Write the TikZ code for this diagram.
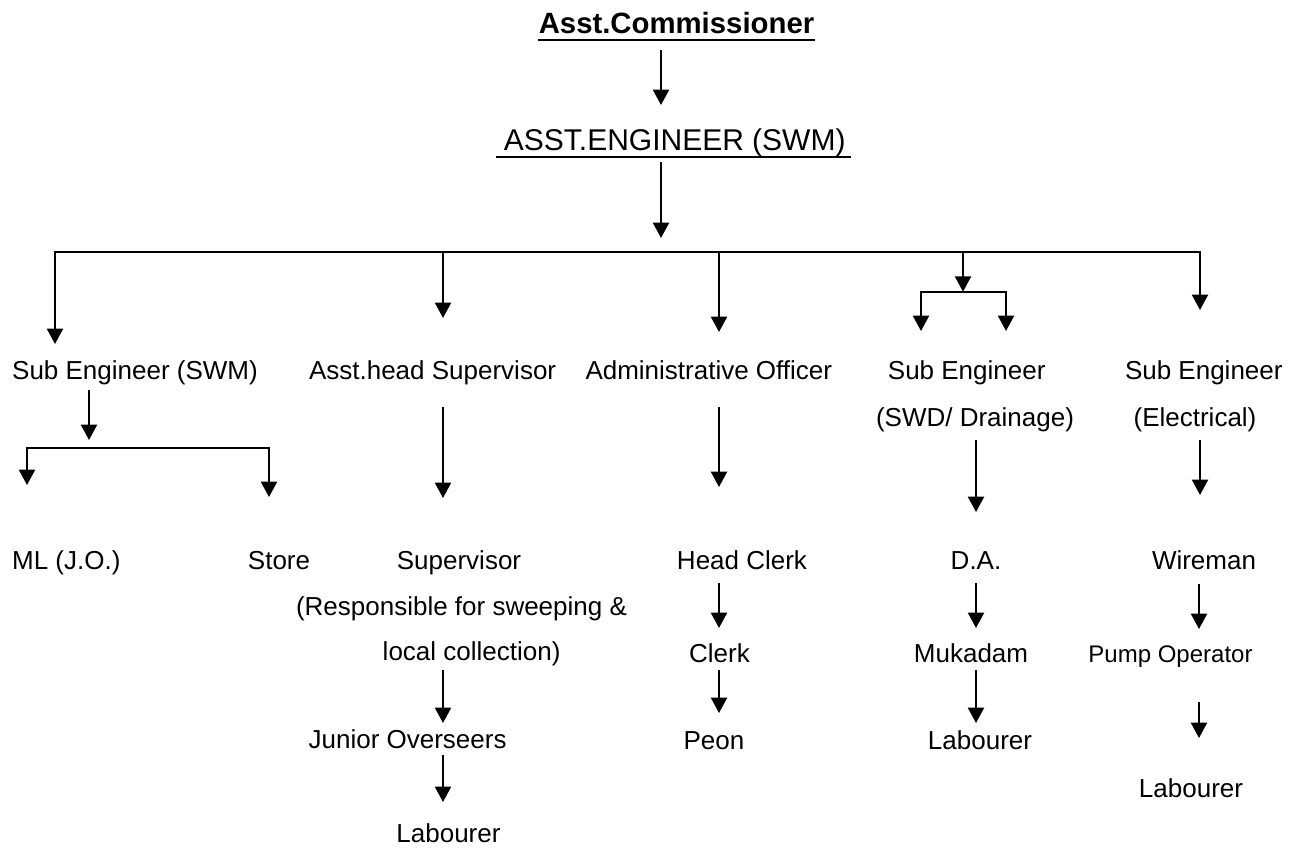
\documentclass[tikz,border=0pt]{standalone}
\usepackage{fontspec}
\setmainfont{Liberation Sans}
\usetikzlibrary{arrows.meta,calc}
\begin{document}
\begin{tikzpicture}[x=0.75pt,y=-0.75pt,
  lab/.style={inner sep=0pt, anchor=base, font=\fontsize{19.5}{23}\selectfont},
  smalllab/.style={inner sep=0pt, anchor=base, font=\fontsize{18}{21}\selectfont},
  ttl/.style={inner sep=0pt, anchor=base, font=\fontsize{22.5}{27}\selectfont},
  boldttl/.style={inner sep=0pt, anchor=base, font=\fontsize{22}{27}\selectfont\bfseries},
  conn/.style={line width=1.6pt},
  tip/.tip={Triangle[length=11.5pt,width=12pt]},
  arr/.style={conn, -tip},
  twoarr/.style={conn, tip-tip},
  ul/.style={line width=1.5pt}]
\fill[white] (0,0) rectangle (1299,851);
\useasboundingbox (0,0) rectangle (1299,851);

% titles
\node[boldttl] (ac) at (676.5,33) {Asst.Commissioner};
\node[ttl] (ae) at (674.7,150) {ASST.ENGINEER (SWM)};
\draw[ul] ($(ac.base west)+(0,7)$) -- ($(ac.base east)+(0,7)$);
\draw[ul] ($(ae.base west)+(-8,7)$) -- ($(ae.base east)+(5,7)$);

% row 1
\node[lab] (seswm) at (135,379) {Sub Engineer (SWM)};
\node[lab] (ahs) at (432.6,379) {Asst.head Supervisor};
\node[lab] (ao) at (708.8,379) {Administrative Officer};
\node[lab] (seswd) at (966.7,379) {Sub Engineer};
\node[lab] (swd) at (975,426) {(SWD/ Drainage)};
\node[lab] (seel) at (1203.8,379) {Sub Engineer};
\node[lab] (el) at (1195,426) {(Electrical)};

% row 2
\node[lab] (ml) at (66.3,569) {ML (J.O.)};
\node[lab] (store) at (279,569) {Store};
\node[lab] (sup) at (459,569) {Supervisor};
\node[lab] (resp) at (461.5,615) {(Responsible for sweeping \&};
\node[lab] (loc) at (471.6,660) {local collection)};
\node[lab] (hc) at (742,569) {Head Clerk};
\node[lab] (da) at (976,569) {D.A.};
\node[lab] (wm) at (1204,569) {Wireman};

% row 3
\node[lab] (clerk) at (719.5,662) {Clerk};
\node[lab] (muk) at (971,662) {Mukadam};
\node[smalllab] (pump) at (1170.5,662) {Pump Operator};
\node[lab] (jo) at (407.6,748) {Junior Overseers};
\node[lab] (peon) at (714,749) {Peon};
\node[lab] (labb) at (980,749) {Labourer};
\node[lab] (labc) at (1191,797) {Labourer};
\node[lab] (laba) at (448.5,842) {Labourer};

% coordinates of connector ends
\coordinate (a1s) at (661,50);   \coordinate (a1e) at (661,105);
\coordinate (a2s) at (661,162);  \coordinate (a2e) at (661,238);
\coordinate (busL) at (55,251.7); \coordinate (busR) at (1200,251.7);
\coordinate (d1e) at (55,344);
\coordinate (d2s) at (443,251.7); \coordinate (d2e) at (443,318);
\coordinate (d3s) at (719,251.7); \coordinate (d3e) at (719,332);
\coordinate (d4s) at (963,251.7); \coordinate (d4e) at (963,291.7);
\coordinate (d5e) at (1200,310);
\coordinate (brL) at (921,291.7); \coordinate (brR) at (1006,291.7);
\coordinate (brLe) at (921,331);  \coordinate (brRe) at (1006,331);

\coordinate (s1s) at (89,390);   \coordinate (s1e) at (89,440);
\coordinate (sbL) at (27,448.3); \coordinate (sbR) at (269,448.3);
\coordinate (sbLe) at (27,485);  \coordinate (sbRe) at (269,497);

\coordinate (e2s) at (443,407);  \coordinate (e2e) at (443,498);
\coordinate (e3s) at (719,407);  \coordinate (e3e) at (719,487);
\coordinate (e4s) at (976,440);  \coordinate (e4e) at (976,512);
\coordinate (e5s) at (1200,440); \coordinate (e5e) at (1200,495);

\coordinate (f1s) at (719,583);  \coordinate (f1e) at (719,628);
\coordinate (f2s) at (976,583);  \coordinate (f2e) at (976,628);
\coordinate (f3s) at (1199,584); \coordinate (f3e) at (1199,629);

\coordinate (g1s) at (443,670);  \coordinate (g1e) at (443,723);
\coordinate (g2s) at (719,670);  \coordinate (g2e) at (719,713);
\coordinate (g3s) at (976,670);  \coordinate (g3e) at (976,723);
\coordinate (g4s) at (1199,702); \coordinate (g4e) at (1199,738);
\coordinate (h1s) at (443,755);  \coordinate (h1e) at (443,802);

% connectors
\draw[arr] (a1s) -- (a1e);
\draw[arr] (a2s) -- (a2e);
\draw[twoarr] (d1e) -- (busL) -- (busR) -- (d5e);
\draw[arr] (d2s) -- (d2e);
\draw[arr] (d3s) -- (d3e);
\draw[arr] (d4s) -- (d4e);
\draw[twoarr] (brLe) -- (brL) -- (brR) -- (brRe);

\draw[arr] (s1s) -- (s1e);
\draw[twoarr] (sbLe) -- (sbL) -- (sbR) -- (sbRe);
\draw[arr] (e2s) -- (e2e);
\draw[arr] (e3s) -- (e3e);
\draw[arr] (e4s) -- (e4e);
\draw[arr] (e5s) -- (e5e);

\draw[arr] (f1s) -- (f1e);
\draw[arr] (f2s) -- (f2e);
\draw[arr] (f3s) -- (f3e);
\draw[arr] (g1s) -- (g1e);
\draw[arr] (g2s) -- (g2e);
\draw[arr] (g3s) -- (g3e);
\draw[arr] (g4s) -- (g4e);
\draw[arr] (h1s) -- (h1e);
\end{tikzpicture}
\end{document}
